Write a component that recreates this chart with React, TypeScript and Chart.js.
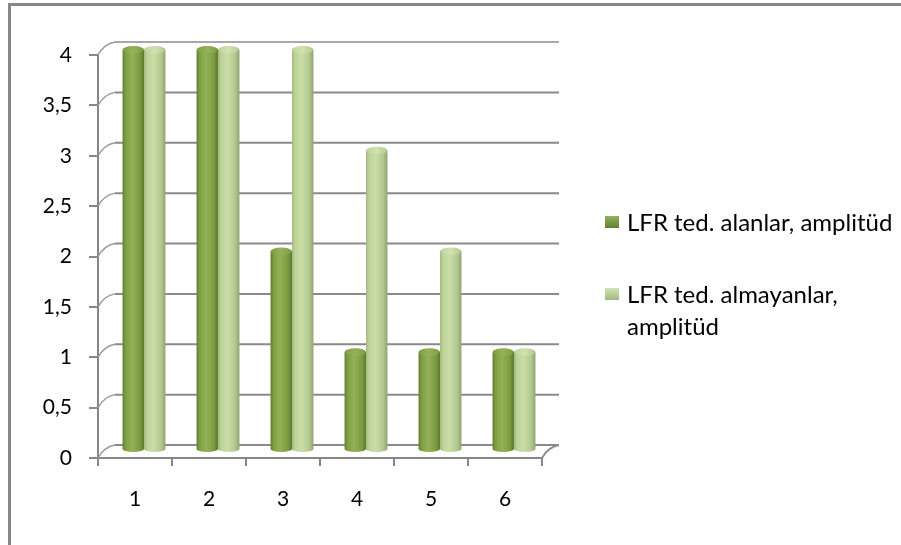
import React, { useEffect, useRef } from "react";
import { Chart, registerables } from "chart.js";

Chart.register(...registerables);

const categories = ["1", "2", "3", "4", "5", "6"];
const seriesNames = ["LFR ted. alanlar, amplitüd", "LFR ted. almayanlar, amplitüd"];
const seriesA = [4, 4, 2, 1, 1, 1];
const seriesB = [4, 4, 4, 3, 2, 1];
const yMin = 0;
const yMax = 4;
const yStep = 0.5;

const FONT = "Lato, 'Open Sans', sans-serif";
const AXIS_FONT_SIZE = 21;
const LEGEND_FONT_SIZE = 24;
const AXIS_GRAY = "#878787";

// cylinder palettes: [edge-dark, mid, highlight, mid, edge-dark]
const palettes = [
  ["#62802f", "#7f9f44", "#93b257", "#7d9c42", "#5d7a2c"],
  ["#a2b982", "#bed39a", "#cadda6", "#b3c890", "#8fa46f"],
];
const capColors = ["#93b35a", "#d2e2b2"];

const DEPTH_DX = 17;
const DEPTH_DY = -13;
const BAR_DX = 9;

function wrapText(ctx: CanvasRenderingContext2D, text: string, maxW: number): string[] {
  const words = text.split(" ");
  const lines: string[] = [];
  let cur = "";
  for (const w of words) {
    const t = cur ? cur + " " + w : w;
    if (ctx.measureText(t).width > maxW && cur) {
      lines.push(cur);
      cur = w;
    } else cur = t;
  }
  if (cur) lines.push(cur);
  return lines;
}

function drawCylinder(
  ctx: CanvasRenderingContext2D,
  x: number,
  top: number,
  base: number,
  w: number,
  pi: number
) {
  const l = x - w / 2;
  const r = x + w / 2;
  const ry = 4;
  const p = palettes[pi];
  const g = ctx.createLinearGradient(l, 0, r, 0);
  g.addColorStop(0, p[0]);
  g.addColorStop(0.15, p[1]);
  g.addColorStop(0.45, p[2]);
  g.addColorStop(0.8, p[3]);
  g.addColorStop(1, p[4]);
  ctx.fillStyle = g;
  ctx.beginPath();
  ctx.moveTo(l, top);
  ctx.lineTo(l, base);
  ctx.ellipse(x, base, w / 2, ry - 1, 0, Math.PI, 0, true);
  ctx.lineTo(r, top);
  ctx.ellipse(x, top, w / 2, ry, 0, 0, Math.PI, true);
  ctx.closePath();
  ctx.fill();
  const cg = ctx.createLinearGradient(l, 0, r, 0);
  cg.addColorStop(0, p[1]);
  cg.addColorStop(0.5, capColors[pi]);
  cg.addColorStop(1, p[3]);
  ctx.fillStyle = cg;
  ctx.beginPath();
  ctx.ellipse(x, top, w / 2 - 0.5, ry - 0.5, 0, 0, Math.PI * 2);
  ctx.fill();
}

const framePlugin = {
  id: "frame3d",
  beforeDraw(chart: any) {
    const ctx = chart.ctx;
    ctx.save();
    ctx.fillStyle = "#ffffff";
    ctx.fillRect(0, 0, chart.width, chart.height);
    ctx.strokeStyle = AXIS_GRAY;
    ctx.lineWidth = 3;
    ctx.beginPath();
    ctx.moveTo(9.5, chart.height);
    ctx.lineTo(9.5, 4.5);
    ctx.lineTo(chart.width, 4.5);
    ctx.stroke();
    ctx.restore();
  },
  beforeDatasetsDraw(chart: any) {
    const ctx = chart.ctx;
    const ys = chart.scales.y;
    const area = chart.chartArea;
    ctx.save();
    for (let v = yMin; v <= yMax + 1e-9; v += yStep) {
      const yf = ys.getPixelForValue(v);
      const yb = yf + DEPTH_DY;
      ctx.strokeStyle = v >= yMax - 1e-9 ? "#a8a8a8" : "#8a8a8a";
      ctx.lineWidth = 2;
      ctx.beginPath();
      ctx.moveTo(area.left + DEPTH_DX, yb);
      ctx.lineTo(area.right + DEPTH_DX, yb);
      ctx.stroke();
      ctx.strokeStyle = "#9a9a9a";
      ctx.lineWidth = 1.5;
      ctx.beginPath();
      ctx.moveTo(area.left, yf);
      ctx.quadraticCurveTo(area.left + 6, yb + 2, area.left + DEPTH_DX, yb);
      ctx.stroke();
    }
    const y0 = ys.getPixelForValue(yMin);
    ctx.strokeStyle = "#8a8a8a";
    ctx.lineWidth = 2;
    ctx.beginPath();
    ctx.moveTo(area.right, y0);
    ctx.quadraticCurveTo(area.right + 6, y0 + DEPTH_DY + 2, area.right + DEPTH_DX, y0 + DEPTH_DY);
    ctx.stroke();
    ctx.restore();
  },
  afterDatasetsDraw(chart: any) {
    const ctx = chart.ctx;
    ctx.save();
    chart.data.datasets.forEach((_: any, di: number) => {
      const meta = chart.getDatasetMeta(di);
      meta.data.forEach((el: any) => {
        drawCylinder(ctx, el.x + BAR_DX, el.y - 5, el.base - 8, el.width, di);
      });
    });
    ctx.restore();
  },
  afterDraw(chart: any) {
    const ctx = chart.ctx;
    ctx.save();
    ctx.font = `${LEGEND_FONT_SIZE}px ${FONT}`;
    ctx.textBaseline = "middle";
    const xs = 605;
    const tx = 627;
    const startY = [222, 294];
    seriesNames.forEach((name, i) => {
      const y = startY[i];
      const p = palettes[i];
      const g = ctx.createLinearGradient(0, y - 6, 0, y + 6);
      g.addColorStop(0, capColors[i]);
      g.addColorStop(1, p[0]);
      ctx.fillStyle = g;
      ctx.fillRect(xs, y - 6, 14, 12);
      ctx.fillStyle = "#000";
      const lines = wrapText(ctx, name, 270);
      lines.forEach((ln, j) => ctx.fillText(ln, tx, y + 1 + j * 32));
    });
    ctx.restore();
  },
};

export default function App() {
  const ref = useRef<HTMLCanvasElement>(null);
  useEffect(() => {
    if (!ref.current) return;
    const chart = new Chart(ref.current, {
      type: "bar",
      data: {
        labels: categories,
        datasets: [
          {
            label: seriesNames[0],
            data: seriesA,
            backgroundColor: "rgba(0,0,0,0)",
            categoryPercentage: 0.58,
            barPercentage: 1,
          },
          {
            label: seriesNames[1],
            data: seriesB,
            backgroundColor: "rgba(0,0,0,0)",
            categoryPercentage: 0.58,
            barPercentage: 1,
          },
        ],
      },
      options: {
        responsive: false,
        animation: false,
        devicePixelRatio: 1,
        layout: { padding: { left: 0, top: 55, right: 359, bottom: 0 } },
        plugins: {
          legend: { display: false },
          tooltip: { enabled: false },
        },
        scales: {
          x: {
            offset: true,
            afterFit: (s: any) => {
              s.height = 87;
            },
            border: { display: true, color: AXIS_GRAY, width: 2 },
            grid: {
              offset: true,
              drawOnChartArea: false,
              drawTicks: true,
              tickLength: 8,
              color: AXIS_GRAY,
              lineWidth: 2,
            },
            ticks: {
              color: "#000",
              padding: 21,
              font: { family: FONT, size: AXIS_FONT_SIZE },
            },
          },
          y: {
            min: yMin,
            max: yMax,
            afterFit: (s: any) => {
              s.width = 98;
            },
            border: { display: true, color: AXIS_GRAY, width: 2 },
            grid: {
              drawOnChartArea: false,
              drawTicks: true,
              tickLength: 9,
              color: AXIS_GRAY,
              lineWidth: 2,
            },
            ticks: {
              stepSize: yStep,
              color: "#000",
              padding: 17,
              font: { family: FONT, size: AXIS_FONT_SIZE },
              callback: (v: any) => String(v).replace(".", ","),
            },
          },
        },
      },
      plugins: [framePlugin],
    });
    return () => chart.destroy();
  }, []);
  return (
    <div style={{ position: "fixed", left: 0, top: 0, width: 901, height: 545 }}>
      <canvas ref={ref} width={901} height={545} />
    </div>
  );
}
